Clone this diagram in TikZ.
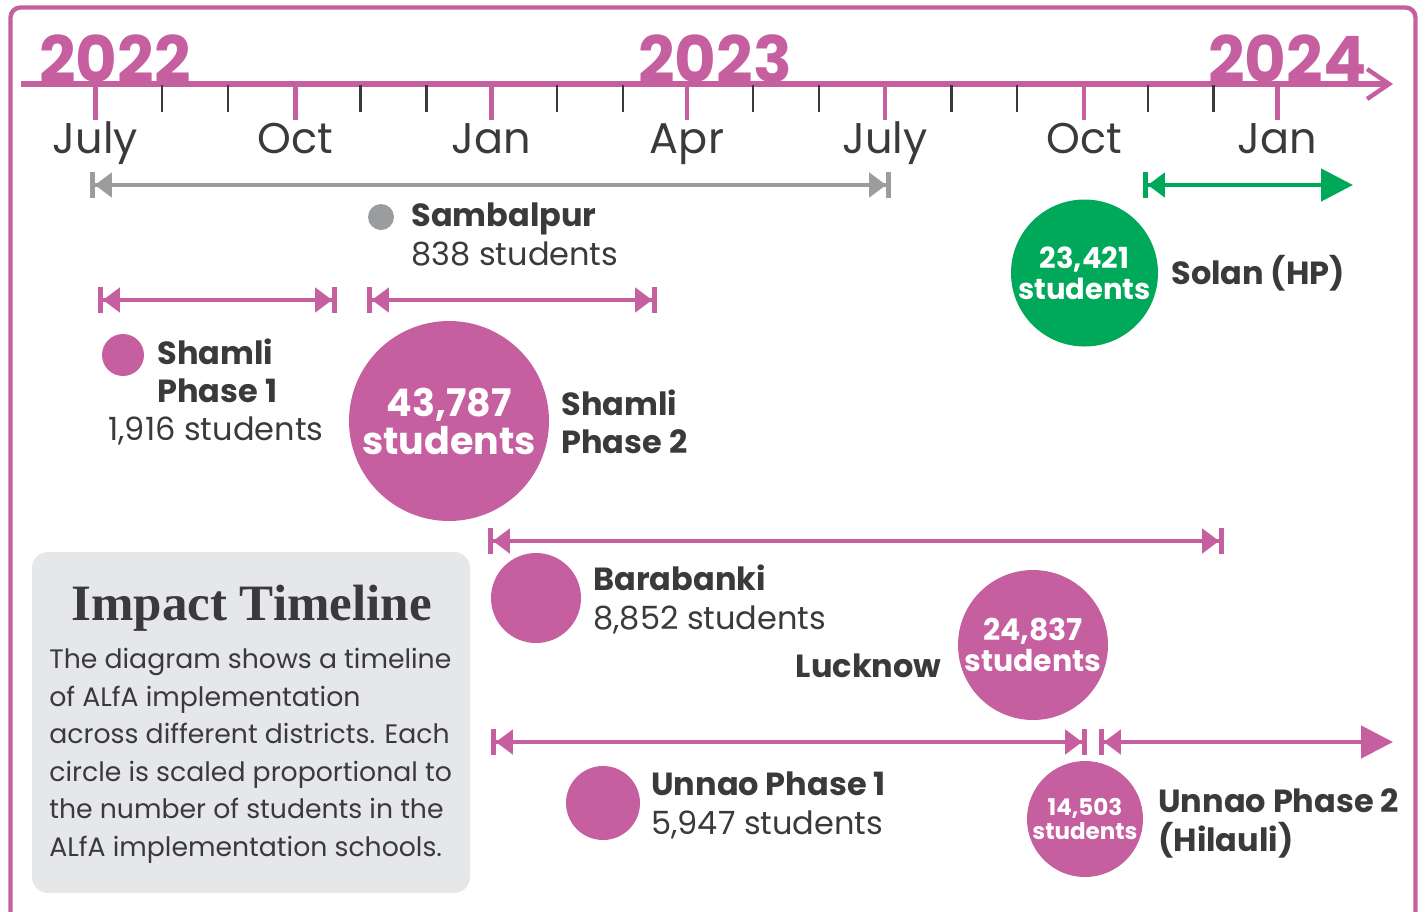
\documentclass[tikz,border=0pt]{standalone}
\usepackage{fontspec}
\setmainfont{Poppins}
\newfontfamily\headfont{Liberation Serif}
\usetikzlibrary{arrows.meta}

\definecolor{alfapink}{RGB}{198,95,160}
\definecolor{alfagreen}{RGB}{0,168,89}
\definecolor{alfagrey}{RGB}{155,156,158}
\definecolor{ink}{RGB}{58,58,60}
\definecolor{boxgrey}{RGB}{230,231,232}

\tikzset{
  barhead/.style = {line width=2.4pt,
    {Bar[width=13pt]Triangle[length=8.5pt,width=12pt]}-{Triangle[length=8.5pt,width=12pt]Bar[width=13pt]}},
  openhead/.style = {line width=2.4pt,
    {Bar[width=13pt]Triangle[length=8.5pt,width=12pt]}-{Triangle[length=16pt,width=16pt]}}
}

\begin{document}
\begin{tikzpicture}[x=0.5pt, y=-0.5pt,
    lbl/.style = {font=\fontsize{16}{19.5}\selectfont, text=ink,
      inner sep=0pt, align=left, anchor=west},
    dot/.style = {circle, fill=alfapink, inner sep=0pt},
    count/.style = {dot, text=white, align=center},
    month/.style = {font=\fontsize{21.5}{26}\selectfont, text=ink,
      anchor=base, inner sep=0pt},
    year/.style = {font=\bfseries\fontsize{32}{32}\selectfont,
      text=alfapink, anchor=base west, inner sep=0pt}]

  \useasboundingbox (0,0) rectangle (1425,911);
  \begin{scope}
    \clip (0,0) rectangle (1425,911);
    \draw[alfapink, line width=2.2pt, rounded corners=5pt]
      (10.5,960) -- (10.5,7.5) -- (1415.5,7.5) -- (1415.5,960);
  \end{scope}

  % time axis
  \node[year] (y2022) at (39,82) {2022};
  \node[year] (y2023) at (638,82) {2023};
  \node[year] (y2024) at (1208,82) {2024};
  \coordinate (axisstart) at (21,84);
  \coordinate (axisend) at (1393,84);
  \draw[alfapink, line width=2.6pt,
    -{Straight Barb[length=11pt,width=15pt,line width=2.2pt]}]
    (axisstart) -- (axisend);
  \foreach \x in {162,228,360.5,426.5,557,623,753,819,951.5,1017,1148,1213.5}
    \draw[ink, line width=1.2pt] (\x,85) -- ++(0,27);
  \foreach \x/\mon [count=\i] in {95.5/July,295.5/Oct,491.5/Jan,687/Apr,885/July,1084/Oct,1277.5/Jan} {
    \draw[alfapink, line width=2.4pt] (\x,85) -- ++(0,35);
    \node[month] (mon\i) at (\x,153) {\mon};
  }

  % spans
  \coordinate (sambA) at (90,185);   \coordinate (sambB) at (891,185);
  \coordinate (solA) at (1143,185);  \coordinate (solB) at (1353,185);
  \coordinate (shamA) at (98,300);   \coordinate (shamB) at (337,300);
  \coordinate (shamC) at (367,300);  \coordinate (shamD) at (657,300);
  \coordinate (baraA) at (488,541);  \coordinate (baraB) at (1224,541);
  \coordinate (unnA) at (491,742);   \coordinate (unnB) at (1087,742);
  \coordinate (unnC) at (1099,742);  \coordinate (unnD) at (1393,742);
  \draw[barhead, alfagrey] (sambA) -- (sambB);
  \draw[openhead, alfagreen] (solA) -- (solB);
  \draw[barhead, alfapink] (shamA) -- (shamB);
  \draw[barhead, alfapink] (shamC) -- (shamD);
  \draw[barhead, alfapink] (baraA) -- (baraB);
  \draw[barhead, alfapink] (unnA) -- (unnB);
  \draw[openhead, alfapink] (unnC) -- (unnD);

  % districts
  \node[dot, fill=alfagrey, minimum size=13pt] (sambdot) at (381,217) {};
  \node[lbl] (samb) at (411,234) {\textbf{Sambalpur}\\838 students};

  \node[dot, minimum size=21pt] (sham1dot) at (123,355) {};
  \node[lbl, font=\bfseries\fontsize{16}{19}\selectfont] (sham1) at (157,371) {Shamli\\Phase 1};
  \node[lbl] (sham1n) at (108,431) {1,916 students};

  \node[count, minimum size=100pt, font=\bfseries\fontsize{19}{19}\selectfont]
    (sham2dot) at (449,421) {43,787\\students};
  \node[lbl, font=\bfseries\fontsize{16}{19}\selectfont] (sham2) at (561,422) {Shamli\\Phase 2};

  \node[count, fill=alfagreen, minimum size=73.5pt, font=\bfseries\fontsize{14.5}{15.5}\selectfont]
    (soldot) at (1084.5,273) {23,421\\students};
  \node[lbl, font=\bfseries\fontsize{16}{19.5}\selectfont] (sol) at (1171,273) {Solan (HP)};

  \node[dot, minimum size=45pt] (baradot) at (536,598) {};
  \node[lbl] (bara) at (593,599) {\textbf{Barabanki}\\8,852 students};

  \node[count, minimum size=75pt, font=\bfseries\fontsize{15}{15.5}\selectfont]
    (luckdot) at (1033,645) {24,837\\students};
  \node[lbl, anchor=east, font=\bfseries\fontsize{16}{19.5}\selectfont] (luck) at (942,666) {Lucknow};

  \node[dot, minimum size=37pt] (unn1dot) at (603,803) {};
  \node[lbl] (unn1) at (651,805) {\textbf{Unnao Phase 1}\\5,947 students};

  \node[count, minimum size=58pt, font=\bfseries\fontsize{11.5}{12}\selectfont]
    (unn2dot) at (1085,819) {14,503\\students};
  \node[lbl, font=\bfseries\fontsize{16}{19.5}\selectfont] (unn2) at (1158,823) {Unnao Phase 2\\(Hilauli)};

  % info box
  \fill[boxgrey, rounded corners=8pt] (32,552) rectangle (470,893);
  \node[font=\headfont\bfseries\fontsize{25.5}{26}\selectfont, text=ink,
    anchor=base, inner sep=0pt] (infotitle) at (251.5,620) {Impact Timeline};
  \node[font=\fontsize{13.35}{18.75}\selectfont, text=ink, align=left,
    anchor=north west, inner sep=0pt] (infotext) at (49,648)
    {The diagram shows a timeline\\of ALfA implementation\\across different districts. Each\\circle is scaled proportional to\\the number of students in the\\ALfA implementation schools.};
\end{tikzpicture}
\end{document}
